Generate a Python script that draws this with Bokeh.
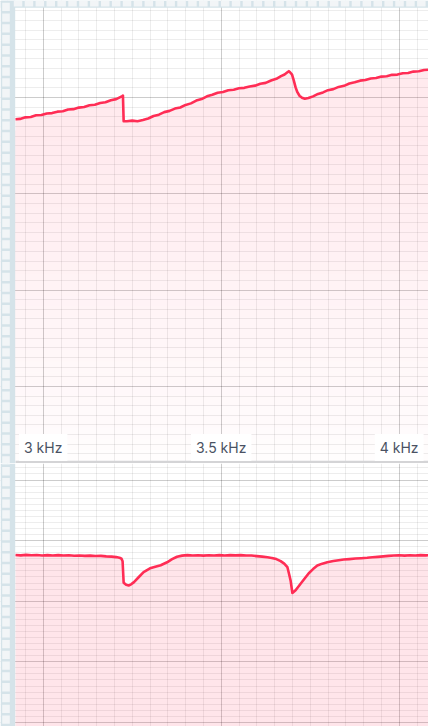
from bokeh.plotting import figure
from bokeh.models import FixedTicker, Grid, Label, Range1d
from bokeh.layouts import column
from bokeh.embed import file_html
from bokeh.resources import INLINE

# ---- data -------------------------------------------------------------
# upper trace: level (dB) vs frequency (Hz)
freq_top = [2922, 2935, 2950, 2965, 2980, 2995, 3010, 3025, 3040, 3055, 3070, 3085,
            3100, 3115, 3130, 3145, 3160, 3175, 3190, 3205, 3215, 3222, 3224, 3226,
            3235, 3250, 3265, 3280, 3295, 3310, 3325, 3340, 3355, 3370, 3385, 3400,
            3415, 3430, 3445, 3460, 3475, 3490, 3505, 3520, 3535, 3550, 3565, 3580,
            3595, 3610, 3625, 3640, 3655, 3668, 3678, 3686, 3690, 3694, 3699, 3704,
            3709, 3714, 3720, 3727, 3735, 3745, 3758, 3772, 3786, 3800, 3815, 3830,
            3845, 3860, 3875, 3890, 3905, 3920, 3935, 3950, 3965, 3980, 3995, 4010,
            4025, 4040, 4055, 4070, 4085]
level_top = [-12.26, -12.22, -12.06, -12.03, -11.85, -11.82, -11.66, -11.62, -11.47, -11.43,
             -11.25, -11.21, -11.05, -10.99, -10.80, -10.75, -10.57, -10.50, -10.29, -10.17,
             -9.99, -9.86, -9.80, -12.45, -12.47, -12.40, -12.46, -12.33, -12.18, -11.92,
             -11.78, -11.52, -11.39, -11.15, -11.04, -10.77, -10.61, -10.32, -10.16, -9.88,
             -9.71, -9.50, -9.43, -9.25, -9.20, -9.04, -9.00, -8.85, -8.77, -8.57,
             -8.48, -8.23, -8.06, -7.78, -7.61, -7.38, -7.27, -7.40, -7.62, -8.25,
             -8.95, -9.45, -9.82, -10.02, -10.13, -10.06, -9.88, -9.63, -9.47, -9.24,
             -9.13, -8.90, -8.79, -8.55, -8.42, -8.25, -8.18, -8.02, -7.98, -7.83,
             -7.80, -7.65, -7.62, -7.48, -7.45, -7.31, -7.28, -7.14, -7.11]

# lower trace
freq_bot = [2922, 2937, 2952, 2967, 2982, 2997, 3012, 3027, 3042, 3057, 3072, 3087,
            3102, 3117, 3132, 3147, 3162, 3177, 3192, 3205, 3214, 3220, 3223, 3226,
            3233, 3240, 3247, 3255, 3268, 3282, 3300, 3315, 3330, 3348, 3362, 3376,
            3390, 3405, 3420, 3435, 3450, 3465, 3480, 3495, 3510, 3525, 3540, 3555,
            3570, 3585, 3600, 3615, 3630, 3642, 3655, 3667, 3677, 3686, 3691, 3695,
            3700, 3709, 3723, 3735, 3746, 3758, 3770, 3784, 3798, 3815, 3830, 3844,
            3860, 3877, 3893, 3910, 3925, 3940, 3955, 3970, 3985, 4000, 4015, 4030,
            4045, 4060, 4075, 4085]
level_bot = [-12.38, -12.44, -12.36, -12.43, -12.37, -12.45, -12.39, -12.46, -12.40, -12.47,
             -12.42, -12.49, -12.45, -12.52, -12.48, -12.55, -12.52, -12.60, -12.64, -12.72,
             -12.82, -13.00, -13.40, -16.95, -17.30, -17.40, -17.22, -16.85, -16.05, -15.20,
             -14.58, -14.30, -14.06, -13.58, -13.07, -12.66, -12.48, -12.40, -12.47, -12.42,
             -12.48, -12.41, -12.46, -12.40, -12.45, -12.39, -12.44, -12.40, -12.46, -12.47,
             -12.56, -12.65, -12.76, -12.86, -13.05, -13.38, -13.80, -14.39, -15.60, -16.60,
             -18.65, -18.20, -17.12, -16.20, -15.38, -14.70, -14.12, -13.80, -13.56, -13.38,
             -13.24, -13.12, -13.05, -12.96, -12.90, -12.84, -12.75, -12.68, -12.60, -12.52,
             -12.46, -12.43, -12.48, -12.41, -12.45, -12.40, -12.44, -12.42]

tick_freqs = [3000, 3500, 4000]
tick_labels = ["3 kHz", "3.5 kHz", "4 kHz"]

# ---- geometry / style ---------------------------------------------------
W = 428
H_TOP = 463
H_BOT = 263
PX_PER_HZ = 178 / 500
X_AT_3K = 42.7
X_START = 3000 - X_AT_3K / PX_PER_HZ
X_END = X_START + W / PX_PER_HZ

TOP_PX_PER_10 = 96.3
TOP_Y_END = -10 + 97 * 10 / TOP_PX_PER_10
TOP_Y_START = TOP_Y_END - H_TOP * 10 / TOP_PX_PER_10

BOT_PX_PER_10 = 60.6
BOT_Y_END = (479.5 - H_TOP) * 10 / BOT_PX_PER_10
BOT_Y_START = BOT_Y_END - H_BOT * 10 / BOT_PX_PER_10

RED = "#ff2d55"
RULER_BG = "#d5e3e9"
RULER_SQ = "#f2f5f7"


def fx(px):
    return X_START + px / PX_PER_HZ


def fy_top(py):
    return TOP_Y_END - py * 10 / TOP_PX_PER_10


def fy_bot(py):
    # py measured from the top of the whole page
    return BOT_Y_END - (py - H_TOP) * 10 / BOT_PX_PER_10


def make_panel(height, y0, y1):
    p = figure(width=W, height=height, x_range=Range1d(X_START, X_END),
               y_range=Range1d(y0, y1), output_backend="svg", toolbar_location=None,
               x_axis_location=None, y_axis_location=None, min_border=0,
               outline_line_color=None, background_fill_color="white",
               border_fill_color="white")
    p.grid.visible = False
    xminor = [f for f in range(2850, 4151, 50) if f % 500]
    xg = Grid(dimension=0, ticker=FixedTicker(ticks=[2500, 3000, 3500, 4000, 4500],
                                              minor_ticks=xminor),
              grid_line_color="#000000", grid_line_alpha=0.2,
              minor_grid_line_color="#000000", minor_grid_line_alpha=0.07)
    ymin = int(y0) - 1
    ymax = int(y1) + 1
    yminor = [v for v in range(ymin, ymax + 1) if v % 10]
    ymajor = [v for v in range(ymin, ymax + 1) if v % 10 == 0]
    yg = Grid(dimension=1, ticker=FixedTicker(ticks=ymajor, minor_ticks=yminor),
              grid_line_color="#000000", grid_line_alpha=0.2,
              minor_grid_line_color="#000000", minor_grid_line_alpha=0.07)
    p.add_layout(xg)
    p.add_layout(yg)
    return p


def draw_ruler(p, fy, py0, py1, top_row):
    p.quad(left=fx(0), right=fx(14.7), top=fy(py0), bottom=fy(py1),
           fill_color=RULER_BG, line_color=None)
    lefts, rights, tops, bottoms = [], [], [], []
    k = -1
    while True:
        gy = 13 + k * 10.8
        if gy > py1:
            break
        if gy + 8.3 > py0:
            lefts.append(fx(1.7))
            rights.append(fx(9.3))
            tops.append(fy(max(gy, py0)))
            bottoms.append(fy(min(gy + 8.3, py1)))
        k += 1
    if top_row:
        p.quad(left=fx(0), right=fx(W), top=fy(0), bottom=fy(7.3),
               fill_color=RULER_BG, line_color=None)
        sx = 13.3
        while sx < W:
            lefts.append(fx(sx))
            rights.append(fx(sx + 8.5))
            tops.append(fy(0))
            bottoms.append(fy(6.0))
            sx += 10.9
    p.quad(left=lefts, right=rights, top=tops, bottom=bottoms,
           fill_color=RULER_SQ, line_color=None)


# ---- upper panel ------------------------------------------------------------
p_top = make_panel(H_TOP, TOP_Y_START, TOP_Y_END)

# shaded area under the trace, fading out towards the bottom
FADE_FROM = 130
p_top.varea(x=freq_top, y1=level_top, y2=fy_top(FADE_FROM),
            fill_color=RED, fill_alpha=0.10)
n_bands = 30
step = (H_TOP - 3 - FADE_FROM) / n_bands
for i in range(n_bands):
    a = 0.10 - 0.088 * (i + 0.5) / n_bands
    p_top.quad(left=X_START, right=X_END,
               top=fy_top(FADE_FROM + i * step), bottom=fy_top(FADE_FROM + (i + 1) * step),
               fill_color=RED, fill_alpha=a, line_color=None)

p_top.line(freq_top, level_top, line_color=RED, line_width=2.6, line_join="round")

# separator between the panels
p_top.quad(left=fx(15), right=X_END, top=fy_top(460.3), bottom=fy_top(H_TOP),
           fill_color="#d4d4d6", line_color=None)

draw_ruler(p_top, fy_top, 0, H_TOP, True)

for f, t in zip(tick_freqs, tick_labels):
    p_top.add_layout(Label(x=f, y=16, y_units="screen", text=t,
                           text_align="center", text_baseline="middle",
                           text_font="Inter", text_font_size="14px",
                           text_color="#4a5263", background_fill_color="white",
                           padding=5))

# ---- lower panel ------------------------------------------------------------
p_bot = make_panel(H_BOT, BOT_Y_START, BOT_Y_END)
p_bot.varea(x=freq_bot, y1=level_bot, y2=BOT_Y_START,
            fill_color=RED, fill_alpha=0.12)
p_bot.line(freq_bot, level_bot, line_color=RED, line_width=2.6, line_join="round")
draw_ruler(p_bot, fy_bot, H_TOP, H_TOP + H_BOT, False)

layout = column(p_top, p_bot, spacing=0)
open("out.html", "w").write(file_html(layout, INLINE))
